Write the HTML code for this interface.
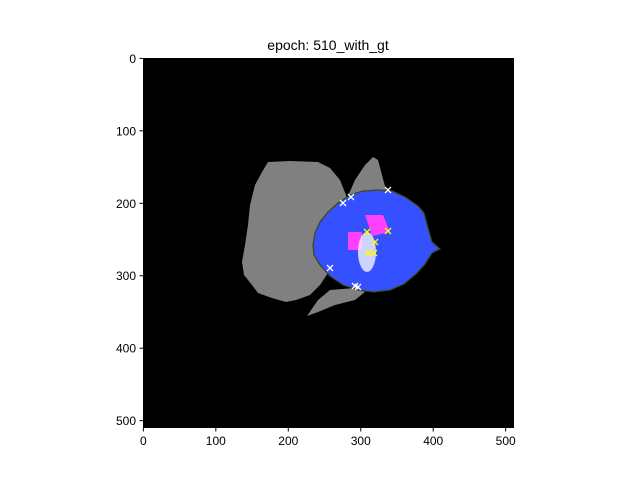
<!DOCTYPE html>
<html><head><meta charset="utf-8"><style>body{margin:0;background:#fff}svg{display:block}text{font-family:"Liberation Sans",sans-serif;font-size:12px;fill:#000}</style></head>
<body>
<svg width="640" height="480">
<text x="328" y="50" text-anchor="middle" style="font-size:14px">epoch: 510_with_gt</text>
<rect x="143" y="58" width="371" height="370" fill="#000"/>
<polygon fill="#808080" points="268,162 290,161 318,162 330,168 340,180 346,195 348,215 345,240 330,270 320,285 310,295 296,300 286,302 272,298 258,293 252,285 244,275 242,262 245,245 248,225 250,205 255,185 262,172"/>
<polygon fill="#808080" points="348,196 355,180 365,165 373,157 378,160 382,175 386,190 350,198"/>
<polygon fill="#808080" points="307,316 318,300 330,290 355,288 365,292 355,300 335,305 318,312"/>
<polygon fill="#3550ff" stroke="#3a4a10" stroke-width="1.2" points="313,245 315,233 320,222 328,212 338,203 350,195 363,191 378,190 392,191 405,197 418,206 424,213 428,228 432,242 440,249 432,253 425,264 416,274 404,284 390,290 374,292 358,290 343,285 330,276 320,265 314,255"/>
<polygon fill="#ff40ff" points="365,215 383,215 390,232 372,236"/>
<polygon fill="#ff40ff" points="348,232 362,232 362,250 348,250"/>
<ellipse cx="367" cy="252" rx="9" ry="20" fill="#ffffff" opacity="0.75"/>
<g id="mk" stroke-width="1.3"></g>
<g id="xa"></g>
<g id="ya"></g>
</svg>
<script>
const ticks=[0,100,200,300,400,500];
const whitePts=[[343,203],[351,197],[388,190],[330,268],[355,286],[358,287]];
const yellowPts=[[367,232],[388,231],[375,242],[368,253],[374,253]];
const ns="http://www.w3.org/2000/svg";
const X0=143,Y0=58,S=371/512;
function mk(t,a){const e=document.createElementNS(ns,t);for(const k in a)e.setAttribute(k,a[k]);return e;}
const g=document.getElementById('mk');
function cross(p,c){const s=3;const e=mk('path',{d:`M${p[0]-s},${p[1]-s}L${p[0]+s},${p[1]+s}M${p[0]-s},${p[1]+s}L${p[0]+s},${p[1]-s}`,stroke:c,'stroke-width':1.3});


g.appendChild(e);}
whitePts.forEach(p=>cross(p,'#fff'));
yellowPts.forEach(p=>cross(p,'#ffff00'));
const xa=document.getElementById('xa'),ya=document.getElementById('ya');
ticks.forEach(v=>{const x=X0+(v+0.5)*S,y=Y0+(v+0.5)*S;
xa.appendChild(mk('line',{x1:x,x2:x,y1:428,y2:431.5,stroke:'#000'}));
const t=mk('text',{x:x,y:445,'text-anchor':'middle'});t.textContent=v;


xa.appendChild(t);
ya.appendChild(mk('line',{x1:139.5,x2:143,y1:y,y2:y,stroke:'#000'}));
const u=mk('text',{x:136,y:y+4.5,'text-anchor':'end'});u.textContent=v;


ya.appendChild(u);});
</script>
</body></html>
